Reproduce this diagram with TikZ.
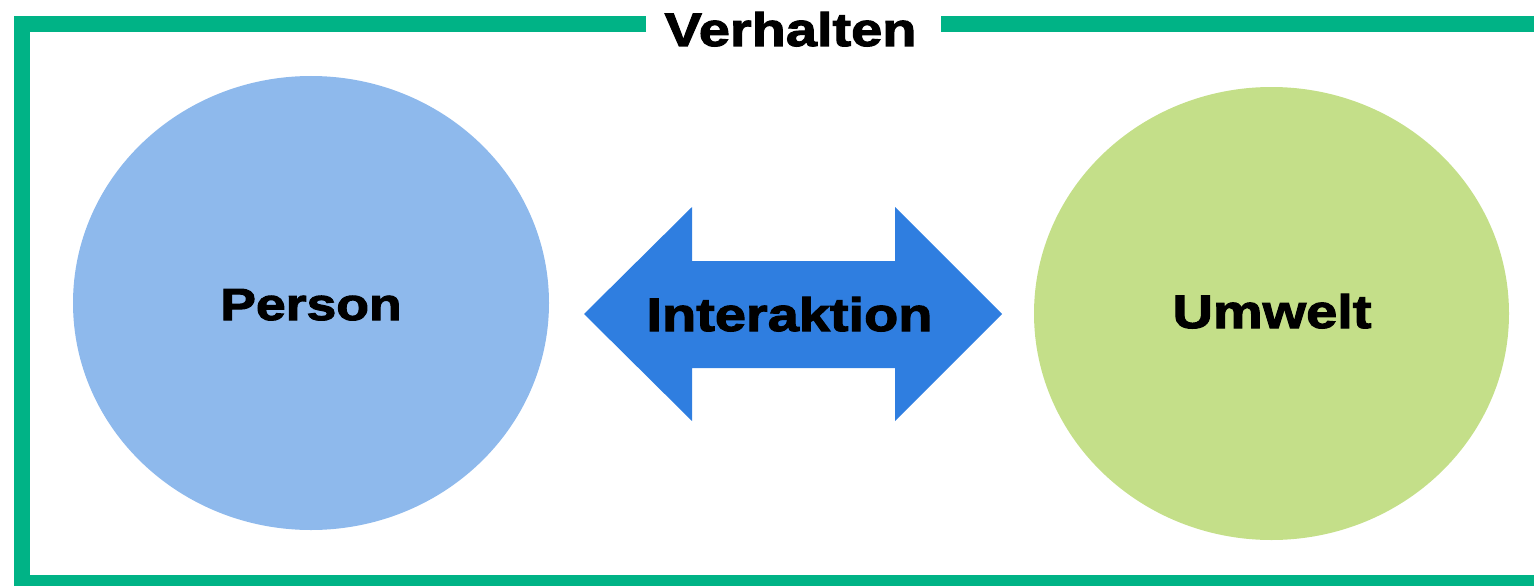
\documentclass[tikz,border=0pt]{standalone}
\usepackage{fontspec}
\setmainfont{Liberation Sans}[BoldFeatures={FakeBold=2.4,FakeStretch=1.19}]
\usetikzlibrary{shapes.geometric}
\definecolor{framegreen}{RGB}{0,179,134}
\definecolor{personblue}{RGB}{142,185,236}
\definecolor{umweltgreen}{RGB}{196,223,137}
\definecolor{arrowblue}{RGB}{47,126,224}
\tikzset{
  frameline/.style={draw=framegreen, line width=16pt, line join=miter, line cap=butt},
  blob/.style={ellipse, draw=none, minimum width=476pt, minimum height=454pt, inner sep=0pt},
  label/.style={font=\bfseries\fontsize{47}{50}\selectfont, text=black, anchor=base, inner sep=0pt},
}
\begin{document}
\begin{tikzpicture}[x=1pt,y=-1pt]
\useasboundingbox (0,0) rectangle (1534,586);
\clip (0,0) rectangle (1534,586);
% frame
\draw[frameline] (646,24) -- (22,24) -- (22,583) -- (1540,583);
\draw[frameline] (941,24) -- (1540,24);
\node[label] (verhalten) at (790.5,46) {Verhalten};
% ellipses
\node[blob, fill=personblue] (personblob) at (311,303) {};
\node[blob, fill=umweltgreen, minimum width=475pt, minimum height=453pt] (umweltblob) at (1271.5,313.5) {};
\node[label, font=\bfseries\fontsize{45}{48}\selectfont] (person) at (311,320) {Person};
\node[label] (umwelt) at (1272,328) {Umwelt};
% double arrow
\fill[arrowblue] (584,314) -- (692,207) -- (692,261) -- (895,261) -- (895,207)
  -- (1002,314) -- (895,421) -- (895,368) -- (692,368) -- (692,421) -- cycle;
\node[label] (interaktion) at (789.5,331) {Interaktion};
\end{tikzpicture}
\end{document}
